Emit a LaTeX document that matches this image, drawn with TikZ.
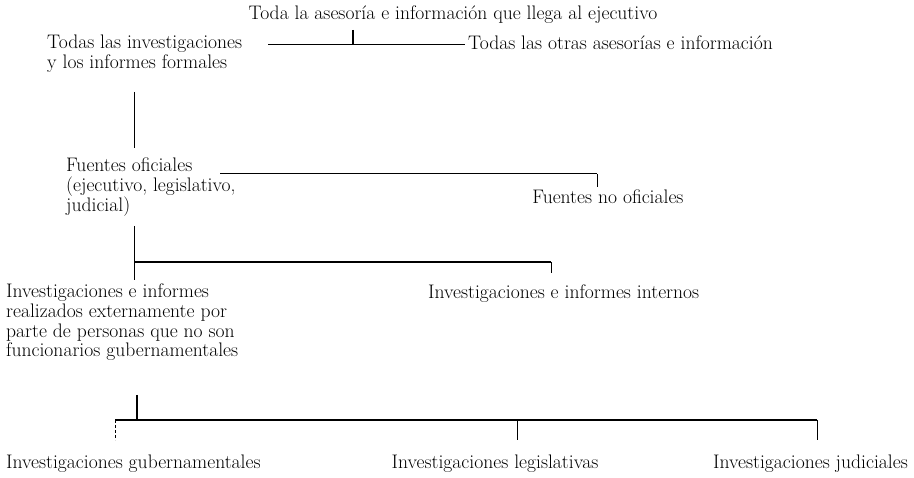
\documentclass[tikz,border=0pt]{standalone}
\usetikzlibrary{positioning}
\begin{document}
\begin{tikzpicture}[x=1pt,y=-1pt,
    lbl/.style={inner sep=0pt,align=left,anchor=base west,
      font=\fontsize{19.6}{19.6}\selectfont},
    conn/.style={line width=1pt},
    heavy/.style={line width=2pt}]
    \useasboundingbox (0,0) rectangle (914,478);

    % textos (base = ultima linea)
    \node[lbl,anchor=base] (todo) at (453,20)
    {Toda la asesoría e información que llega al ejecutivo};
    \node[lbl] (formales) at (47,68.6)
    {Todas las investigaciones\\y los informes formales};
    \node[lbl] (otras) at (468,50)
    {Todas las otras asesorías e información};
    \node[lbl] (oficiales) at (66,211.2)
    {Fuentes oficiales\\(ejecutivo, legislativo,\\judicial)};
    \node[lbl,anchor=base] (nooficiales) at (608,204)
    {Fuentes no oficiales};
    \node[lbl] (externos) at (6,356.8)
    {Investigaciones e informes\\realizados externamente por\\parte de personas que no son\\funcionarios gubernamentales};
    \node[lbl] (internos) at (428,299)
    {Investigaciones e informes internos};
    \node[lbl] (gub) at (6,469)
    {Investigaciones gubernamentales};
    \node[lbl,anchor=base] (leg) at (495,469)
    {Investigaciones legislativas};
    \node[lbl,anchor=base east] (jud) at (908,469)
    {Investigaciones judiciales};

    % puntos de union
    \coordinate (t1) at (353,30);
    \coordinate (j1) at (353,45);
    \coordinate (l1) at (268,45);
    \coordinate (r1) at (465,45);
    \coordinate (f1) at (134,92);
    \coordinate (f2) at (134,148);
    \coordinate (o1) at (220,174);
    \coordinate (o2) at (597,174);
    \coordinate (o3) at (597,187);
    \coordinate (e1) at (134,226);
    \coordinate (e2) at (134,262);
    \coordinate (e3) at (134,280);
    \coordinate (i1) at (551,262);
    \coordinate (i2) at (551,273);
    \coordinate (g0) at (137,395);
    \coordinate (g1) at (137,420);
    \coordinate (h1) at (115,420);
    \coordinate (h2) at (517,420);
    \coordinate (h3) at (817,420);
    \coordinate (d1) at (115,440);
    \coordinate (d2) at (517,440);
    \coordinate (d3) at (817,440);

    \path
    (t1) edge[heavy] (j1)
    (l1) edge[conn]  (r1)
    (f1) edge[conn]  (f2)
    (o1) edge[conn]  (o2)
    (o2) edge[conn]  (o3)
    (e1) edge[conn]  (e3)
    (e2) edge[heavy] (i1)
    (i1) edge[conn]  (i2)
    (g0) edge[heavy] (g1)
    (h1) edge[heavy] (h3)
    (h1) edge[conn,densely dashed] (d1)
    (h2) edge[conn]  (d2)
    (h3) edge[conn]  (d3);
\end{tikzpicture}
\end{document}
